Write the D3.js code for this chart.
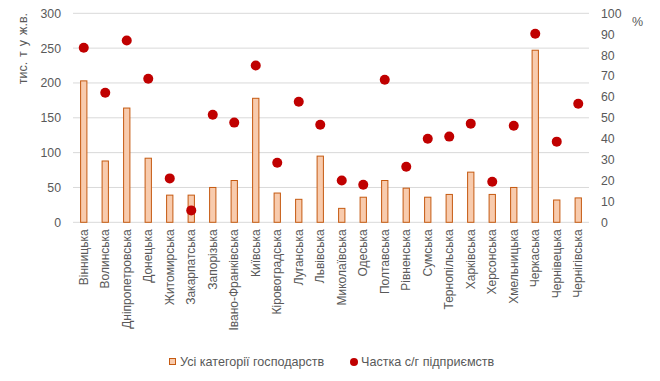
<!DOCTYPE html>
<html><head><meta charset="utf-8">
<script src="https://cdn.jsdelivr.net/npm/d3@7"></script>
<style>body{margin:0;background:#fff;} text{font-family:"Liberation Sans",Arial,sans-serif;fill:#595959;}</style>
</head><body>
<svg id="c" width="660" height="381"></svg>
<script>
const regions = ["Вінницька","Волинська","Дніпропетровська","Донецька","Житомирська","Закарпатська","Запорізька","Івано-Франківська","Київська","Кіровоградська","Луганська","Львівська","Миколаївська","Одеська","Полтавська","Рівненська","Сумська","Тернопільська","Харківська","Херсонська","Хмельницька","Черкаська","Чернівецька","Чернігівська"];
const allFarms = [203,88,164,92,39,39,50,60,178,42,33,95,20,36,60,49,36,40,72,40,50,247,32,35];
const shareAgri = [83.5,62,87,68.7,21,5.7,51.5,47.7,75,28.5,57.7,46.7,20,18,68.2,26.6,40,41,47.2,19.4,46.2,90.2,38.6,56.7];
const leftTicks = [0,50,100,150,200,250,300];
const rightTicks = [0,10,20,30,40,50,60,70,80,90,100];
const seriesNames = ["Усі категорії господарств","Частка с/г підприємств"];
const leftTitle = "тис. т у ж.в.";
const rightTitle = "%";

const svg = d3.select("#c");
const L = 73, R = 589, T = 13.3, B = 222.3;
const x = d3.scaleBand().domain(regions).range([L, R]).paddingInner(0.66).paddingOuter(0.33);
const yL = d3.scaleLinear().domain([0,300]).range([B, T]);
const yR = d3.scaleLinear().domain([0,100]).range([B, T]);
const FONT = "Liberation Sans, Arial, sans-serif";

// grid
svg.append("g").selectAll("line").data(leftTicks).join("line")
  .attr("x1", L).attr("x2", R).attr("y1", d=>yL(d)).attr("y2", d=>yL(d))
  .attr("stroke", "#D9D9D9").attr("stroke-width", 1);

// left axis
const gl = svg.append("g").attr("transform", `translate(${L},0)`)
  .call(d3.axisLeft(yL).tickValues(leftTicks).tickSize(0).tickPadding(12));
gl.select(".domain").remove();
gl.selectAll("text").attr("font-size", 12.3).style("fill","#595959").style("font-family",FONT);

// right axis
const gr = svg.append("g").attr("transform", `translate(${R},0)`)
  .call(d3.axisRight(yR).tickValues(rightTicks).tickSize(0).tickPadding(12));
gr.select(".domain").remove();
gr.selectAll("text").attr("font-size", 12.3).style("fill","#595959").style("font-family",FONT);

// bottom axis labels
const gb = svg.append("g").attr("transform", `translate(0,${B})`)
  .call(d3.axisBottom(x).tickSize(0).tickPadding(0));
gb.select(".domain").remove();
gb.selectAll("text").attr("font-size", 12).style("fill","#595959").style("font-family",FONT)
  .attr("text-anchor","end").attr("dy","0.35em")
  .attr("transform","translate(0,7) rotate(-90)").attr("x",0).attr("y",0);

// bars
svg.append("g").selectAll("rect").data(regions).join("rect")
  .attr("x", d=>x(d)+0.5).attr("width", x.bandwidth()-1)
  .attr("y", (d,i)=>yL(allFarms[i])).attr("height", (d,i)=>B-yL(allFarms[i]))
  .attr("fill","#F8CBAD").attr("stroke","#C55A11").attr("stroke-width",1);

// dots
svg.append("g").selectAll("circle").data(regions).join("circle")
  .attr("cx", d=>x(d)+x.bandwidth()/2).attr("cy", (d,i)=>yR(shareAgri[i]))
  .attr("r", 5).attr("fill","#C00000");

// titles
svg.append("text").attr("transform","translate(27,13) rotate(-90)").attr("text-anchor","end")
  .attr("font-size",12.5).attr("word-spacing",1.5).text(leftTitle);
svg.append("text").attr("x",632).attr("y",26).attr("font-size",12.5).text(rightTitle);

// legend
const lg = svg.append("g");
lg.append("rect").attr("x",169.5).attr("y",358.5).attr("width",6).attr("height",6)
  .attr("fill","#F8CBAD").attr("stroke","#C55A11");
lg.append("text").attr("x",180).attr("y",366).attr("font-size",12.6).text(seriesNames[0]);
lg.append("circle").attr("cx",354).attr("cy",362).attr("r",4).attr("fill","#C00000");
lg.append("text").attr("x",361).attr("y",366).attr("font-size",12.6).text(seriesNames[1]);
</script>
</body></html>
